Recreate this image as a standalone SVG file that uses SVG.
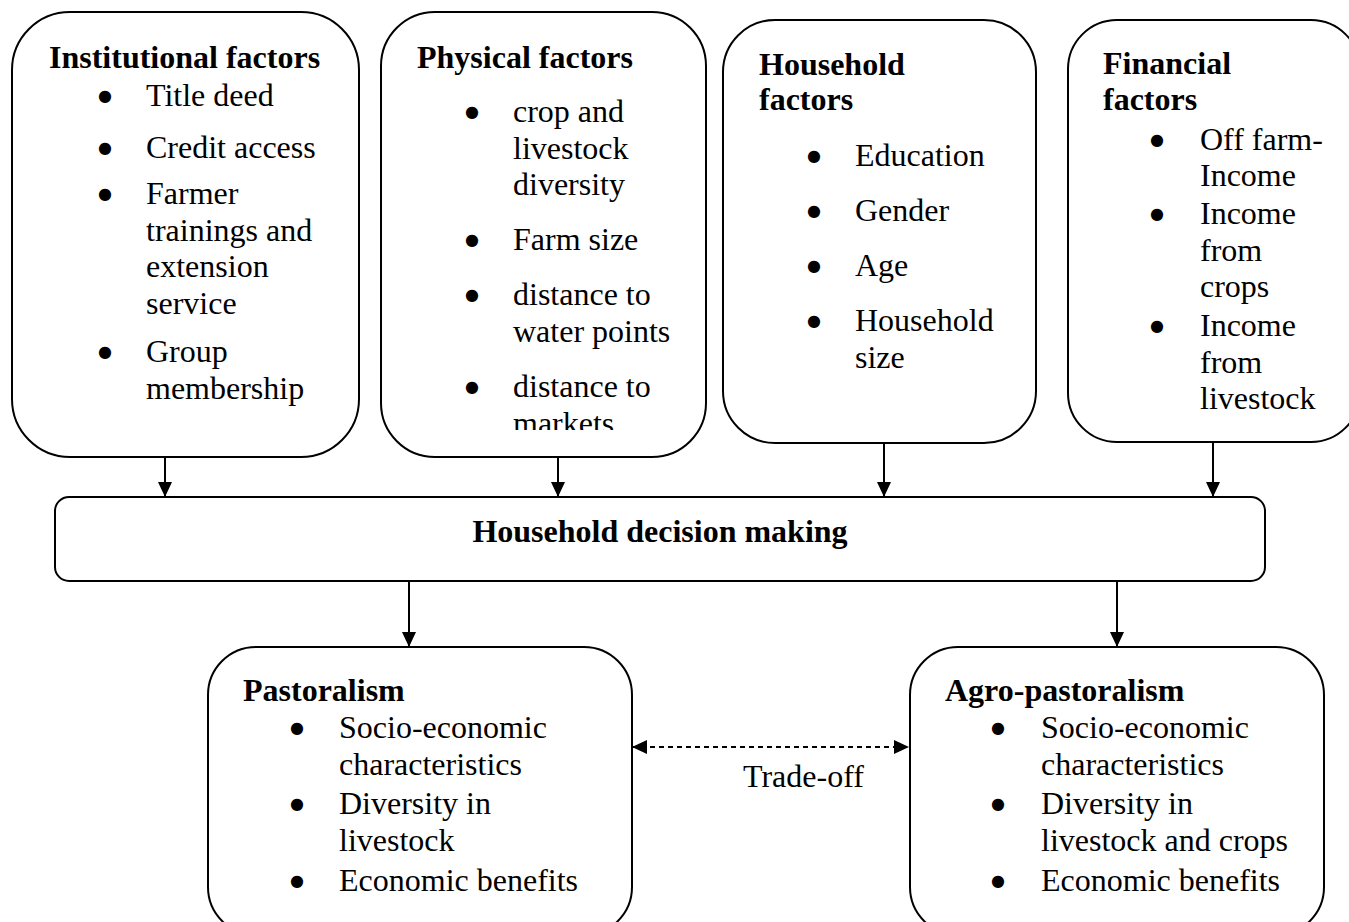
<svg xmlns="http://www.w3.org/2000/svg" width="1349" height="922" viewBox="0 0 1349 922">
<style>
.box{fill:#fff;stroke:#000;stroke-width:2}
text{font-family:"Liberation Serif","Times New Roman",serif;font-size:32px;fill:#000}
.t{font-weight:bold}
.b{text-anchor:middle;font-family:"DejaVu Sans",sans-serif;font-size:16px}
.c{fill:none;stroke:#000;stroke-width:2}
.d{stroke-dasharray:5,4}
</style>
<defs>
<marker id="ah" markerUnits="userSpaceOnUse" markerWidth="15" markerHeight="14" refX="15" refY="7" orient="auto-start-reverse">
<path d="M0,0 L15,7 L0,14 z" fill="#000"/>
</marker>
<clipPath id="clipPhys"><rect x="381" y="12" width="325" height="418"/></clipPath>
</defs>
<rect width="1349" height="922" fill="#fff"/>

<g id="institutional">
<rect class="box" x="12" y="12" width="347" height="445" rx="58" ry="58"/>
<text class="t" x="49" y="68">Institutional factors</text>
<text class="b" x="105" y="101">●</text><text x="146" y="106">Title deed</text>
<text class="b" x="105" y="153">●</text><text x="146" y="158">Credit access</text>
<text class="b" x="105" y="199">●</text><text x="146" y="204">Farmer</text>
<text x="146" y="240.5">trainings and</text>
<text x="146" y="277">extension</text>
<text x="146" y="313.5">service</text>
<text class="b" x="105" y="357">●</text><text x="146" y="362">Group</text>
<text x="146" y="398.5">membership</text>
</g>

<g id="physical">
<rect class="box" x="381" y="12" width="325" height="445" rx="54" ry="54"/>
<g clip-path="url(#clipPhys)">
<text class="t" x="417" y="68">Physical factors</text>
<text class="b" x="472" y="117">●</text><text x="513" y="122">crop and</text>
<text x="513" y="158.5">livestock</text>
<text x="513" y="195">diversity</text>
<text class="b" x="472" y="245">●</text><text x="513" y="250">Farm size</text>
<text class="b" x="472" y="300">●</text><text x="513" y="305">distance to</text>
<text x="513" y="341.5">water points</text>
<text class="b" x="472" y="392">●</text><text x="513" y="397">distance to</text>
<text x="513" y="433.5">markets</text>
</g>
</g>

<g id="household">
<rect class="box" x="723" y="20" width="313" height="423" rx="52" ry="52"/>
<text class="t" x="759" y="75">Household</text>
<text class="t" x="759" y="110">factors</text>
<text class="b" x="814" y="161">●</text><text x="855" y="166">Education</text>
<text class="b" x="814" y="216">●</text><text x="855" y="221">Gender</text>
<text class="b" x="814" y="271">●</text><text x="855" y="276">Age</text>
<text class="b" x="814" y="326">●</text><text x="855" y="331">Household</text>
<text x="855" y="367.5">size</text>
</g>

<g id="financial">
<rect class="box" x="1068" y="20" width="292" height="422" rx="49" ry="49"/>
<text class="t" x="1103" y="74">Financial</text>
<text class="t" x="1103" y="110">factors</text>
<text class="b" x="1157" y="145">●</text><text x="1200" y="150">Off farm-</text>
<text x="1200" y="186">Income</text>
<text class="b" x="1157" y="219">●</text><text x="1200" y="224">Income</text>
<text x="1200" y="260.5">from</text>
<text x="1200" y="297">crops</text>
<text class="b" x="1157" y="331">●</text><text x="1200" y="336">Income</text>
<text x="1200" y="372.5">from</text>
<text x="1200" y="409">livestock</text>
</g>

<g id="decision">
<rect class="box" x="55" y="497" width="1210" height="84" rx="14" ry="14"/>
<text class="t" x="660" y="542" text-anchor="middle">Household decision making</text>
</g>

<g id="pastoralism">
<rect class="box" x="208" y="647" width="424" height="288" rx="48" ry="48"/>
<text class="t" x="243" y="701">Pastoralism</text>
<text class="b" x="297" y="733">●</text><text x="339" y="738">Socio-economic</text>
<text x="339" y="774.5">characteristics</text>
<text class="b" x="297" y="809">●</text><text x="339" y="814">Diversity in</text>
<text x="339" y="850.5">livestock</text>
<text class="b" x="297" y="886">●</text><text x="339" y="891">Economic benefits</text>
</g>

<g id="agropastoralism">
<rect class="box" x="910" y="647" width="414" height="288" rx="48" ry="48"/>
<text class="t" x="945" y="701">Agro-pastoralism</text>
<text class="b" x="998" y="733">●</text><text x="1041" y="738">Socio-economic</text>
<text x="1041" y="774.5">characteristics</text>
<text class="b" x="998" y="809">●</text><text x="1041" y="814">Diversity in</text>
<text x="1041" y="850.5">livestock and crops</text>
<text class="b" x="998" y="886">●</text><text x="1041" y="891">Economic benefits</text>
</g>

<g id="connectors">
<line class="c" x1="165" y1="457" x2="165" y2="497" marker-end="url(#ah)"/>
<line class="c" x1="558" y1="457" x2="558" y2="497" marker-end="url(#ah)"/>
<line class="c" x1="884" y1="443" x2="884" y2="497" marker-end="url(#ah)"/>
<line class="c" x1="1213" y1="442" x2="1213" y2="497" marker-end="url(#ah)"/>
<line class="c" x1="409" y1="581" x2="409" y2="647" marker-end="url(#ah)"/>
<line class="c" x1="1117" y1="581" x2="1117" y2="647" marker-end="url(#ah)"/>
<line class="c d" x1="632" y1="747" x2="909" y2="747" marker-start="url(#ah)" marker-end="url(#ah)"/>
<text x="743" y="787">Trade-off</text>
</g>
</svg>
